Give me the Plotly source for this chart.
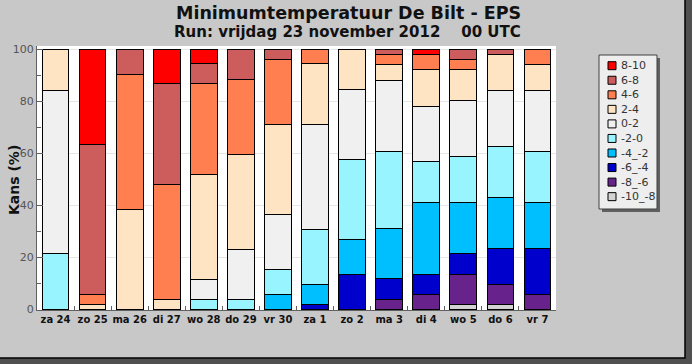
import plotly.graph_objects as go

days = ["za 24", "zo 25", "ma 26", "di 27", "wo 28", "do 29", "vr 30",
        "za 1", "zo 2", "ma 3", "di 4", "wo 5", "do 6", "vr 7"]

# probability (%) per temperature class, bottom of stack first
p_m10_m8 = [0, 0, 0, 0, 0, 0, 0, 0, 0, 0, 0, 1.9, 1.9, 0]
p_m8_m6 = [0, 0, 0, 0, 0, 0, 0, 0, 0, 3.8, 5.8, 11.6, 7.7, 5.8]
p_m6_m4 = [0, 0, 0, 0, 0, 0, 0, 1.9, 13.5, 8.0, 7.7, 8.0, 13.7, 17.5]
p_m4_m2 = [0, 0, 0, 0, 0, 0, 5.8, 7.7, 13.4, 19.4, 27.5, 19.5, 19.6, 17.7]
p_m2_0 = [21.6, 0, 0, 0, 3.8, 3.8, 9.6, 21.0, 30.8, 29.6, 15.9, 17.7, 19.9, 19.8]
p_0_2 = [62.7, 0, 0, 0, 7.7, 19.3, 21.3, 40.6, 26.9, 27.3, 21.3, 21.7, 21.4, 23.4]
p_2_4 = [15.7, 1.9, 38.3, 3.8, 40.4, 36.5, 34.5, 23.2, 15.4, 5.9, 14.1, 11.9, 14.0, 10.0]
p_4_6 = [0, 3.9, 52.2, 44.3, 34.8, 28.9, 25.0, 5.6, 0, 4.1, 5.9, 3.9, 0, 5.8]
p_6_8 = [0, 57.7, 9.5, 38.6, 7.7, 11.5, 3.8, 0, 0, 1.9, 0, 3.8, 1.8, 0]
p_8_10 = [0, 36.5, 0, 13.3, 5.6, 0, 0, 0, 0, 0, 1.8, 0, 0, 0]

class_names = ["-10_-8", "-8_-6", "-6_-4", "-4_-2", "-2-0", "0-2", "2-4", "4-6", "6-8", "8-10"]
class_values = [p_m10_m8, p_m8_m6, p_m6_m4, p_m4_m2, p_m2_0, p_0_2, p_2_4, p_4_6, p_6_8, p_8_10]
class_colors = ["#D3D3D3", "#68228B", "#0000CD", "#00BFFF", "#98F5FF",
                "#F0F0F0", "#FFE4C4", "#FF7F50", "#CD5C5C", "#FF0000"]

y_ticks = [0, 20, 40, 60, 80, 100]

W_FIG, H_FIG = 692, 364
L, T, R, B = 37, 46, 556, 310
PW, PH = R - L, B - T


def px(xp):
    return (xp - L) / PW


def py(yp):
    return (B - yp) / PH


fig = go.Figure()
for name, vals, col in zip(class_names, class_values, class_colors):
    fig.add_trace(go.Bar(
        x=days, y=[v if v > 0 else None for v in vals], name=name,
        marker=dict(color=col, line=dict(color="#000000", width=1)),
        width=0.72, showlegend=False,
    ))

shapes = []
# gray panel (paper background is the dark shadow colour)
shapes.append(dict(type="rect", xref="paper", yref="paper", layer="below",
                   x0=px(-2), x1=px(685), y0=py(358), y1=py(-2),
                   fillcolor="#C8C8C8", line=dict(color="#000000", width=1.5)))
# white plotting area
shapes.append(dict(type="rect", xref="paper", yref="paper", layer="below",
                   x0=0, x1=1, y0=0, y1=1,
                   fillcolor="#FFFFFF", line=dict(width=0)))
# legend box with shadow
shapes.append(dict(type="rect", xref="paper", yref="paper", layer="above",
                   x0=px(602), x1=px(660), y0=py(212), y1=py(58),
                   fillcolor="#606060", line=dict(width=0)))
shapes.append(dict(type="rect", xref="paper", yref="paper", layer="above",
                   x0=px(599), x1=px(657), y0=py(209), y1=py(55),
                   fillcolor="#EEEEEE", line=dict(color="#404040", width=1)))

annotations = []
legend_order = list(zip(class_names, class_colors))[::-1]
for i, (name, col) in enumerate(legend_order):
    yc = 65.7 + i * 14.55
    shapes.append(dict(type="rect", xref="paper", yref="paper", layer="above",
                       x0=px(608), x1=px(616), y0=py(yc + 4), y1=py(yc - 4),
                       fillcolor=col, line=dict(color="#000000", width=1)))
    annotations.append(dict(xref="paper", yref="paper", x=px(619), y=py(yc),
                            xanchor="left", yanchor="middle", showarrow=False,
                            text=name, font=dict(family="DejaVu Sans", size=11, color="#333333")))

annotations.append(dict(xref="paper", yref="paper", x=px(348), y=py(13),
                        xanchor="center", yanchor="middle", showarrow=False,
                        text="<b>Minimumtemperatuur De Bilt - EPS</b>",
                        font=dict(family="DejaVu Sans", size=17.5, color="#111111")))
annotations.append(dict(xref="paper", yref="paper", x=px(347), y=py(32),
                        xanchor="center", yanchor="middle", showarrow=False,
                        text="<b>Run: vrijdag 23 november 2012    00 UTC</b>",
                        font=dict(family="DejaVu Sans", size=15, color="#111111")))
annotations.append(dict(xref="paper", yref="paper", x=px(14), y=py(180),
                        xanchor="center", yanchor="middle", showarrow=False,
                        textangle=-90, text="<b>Kans (%)</b>",
                        font=dict(family="DejaVu Sans", size=14, color="#111111")))

fig.update_layout(
    width=W_FIG, height=H_FIG,
    margin=dict(l=L, r=W_FIG - R, t=T, b=H_FIG - B, pad=0, autoexpand=False),
    barmode="stack", bargap=0.28,
    paper_bgcolor="#505050", plot_bgcolor="rgba(0,0,0,0)",
    showlegend=False,
    shapes=shapes, annotations=annotations,
    xaxis=dict(type="category", range=[-0.5, 13.5], showline=True, linecolor="#606060",
               linewidth=1, ticks="inside", tickson="boundaries", ticklen=4,
               tickcolor="#606060", showgrid=False, tickangle=0, automargin=False,
               tickfont=dict(family="DejaVu Sans", size=10, color="#111111"),
               tickprefix="<b>", ticksuffix="</b>"),
    yaxis=dict(range=[-0.2, 101.3], tickvals=y_ticks, showline=True, linecolor="#606060",
               linewidth=1, ticks="inside", ticklen=6, tickcolor="#606060", automargin=False,
               showgrid=True, gridcolor="#E6E6E6", gridwidth=1, zeroline=False,
               tickfont=dict(family="DejaVu Sans", size=11, color="#555555"),
               minor=dict(dtick=10, ticks="inside", ticklen=4, tickcolor="#606060", showgrid=False)),
)

fig.write_html("out.html", config={"displayModeBar": False},
               post_script="document.body.style.margin='0px';document.body.style.overflow='hidden';")
